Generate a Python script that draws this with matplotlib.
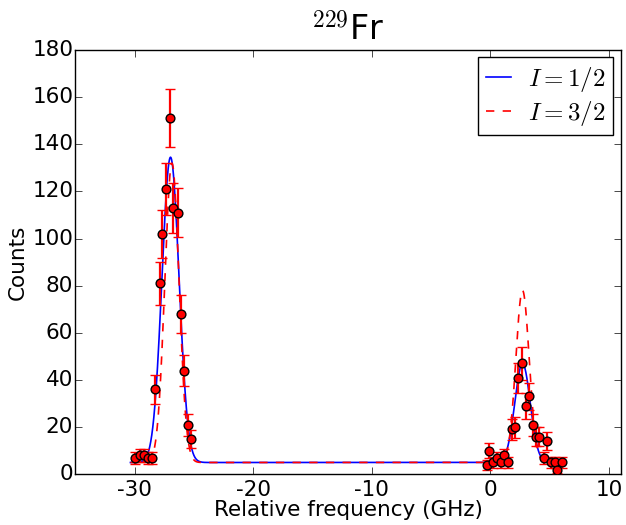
import numpy as np
import matplotlib
matplotlib.use("Agg")
import matplotlib.pyplot as plt

plt.style.use("classic")
plt.rcParams["axes.unicode_minus"] = False

### 데이터 ###
freq = [
    -29.98, -29.56, -29.22, -28.86, -28.52, -28.24, -27.87, -27.65,
    -27.31, -27.03, -26.75, -26.38, -26.10, -25.82, -25.49, -25.26,
    -0.30, -0.08, 0.25, 0.59, 0.88, 1.18, 1.47, 1.81, 2.08, 2.31,
    2.65, 2.99, 3.29, 3.63, 3.86, 4.14, 4.53, 4.81, 5.12, 5.46, 5.65, 6.08,
]
counts = [
    7, 8, 8, 7, 7, 36, 81, 102,
    121, 151, 113, 111, 68, 44, 21, 15,
    4, 10, 5, 7, 5, 8, 5, 19, 20, 41,
    47, 29, 33, 21, 16, 16, 7, 14, 5, 5, 2, 5,
]

# 피팅 결과 파라미터 (가우시안 성분: 중심, 높이, 폭)
background = 5.0
half_centers = [-26.97, 2.72]
half_amps = [129.5, 42.0]
half_widths = [0.72, 0.65]

three_half_centers = [-26.85, 2.72]
three_half_amps = [127.0, 73.0]
three_half_widths = [0.60, 0.56]


def model(x, centers, amps, widths, bg):
    y = np.full_like(x, bg)
    for c, a, w in zip(centers, amps, widths):
        y += a * np.exp(-0.5 * ((x - c) / w) ** 2)
    return y


### 그리기 ###
fig = plt.figure(figsize=(6.26, 5.25), dpi=100, facecolor="white")
ax = fig.add_axes([0.1203, 0.0966, 0.8712, 0.8082])

# 피팅 곡선은 데이터 범위 조금 바깥까지만
xs = np.linspace(min(freq) - 0.37, max(freq) + 0.32, 3000)
ax.plot(xs, model(xs, half_centers, half_amps, half_widths, background),
        "b-", lw=1.2, label=r"$I=1/2$")
ax.plot(xs, model(xs, three_half_centers, three_half_amps, three_half_widths, background),
        "r--", lw=1.2, label=r"$I=3/2$")

err = np.sqrt(counts)
ax.errorbar(freq, counts, yerr=err, fmt="o", color="red", ecolor="red",
            mfc="red", mec="black", mew=1.0, ms=6.3, elinewidth=1.6,
            capsize=3.5, capthick=1.6, zorder=5)

ax.set_xlim(-35, 11)
ax.set_ylim(0, 180)
ax.set_xticks([-30, -20, -10, 0, 10])
ax.set_yticks(range(0, 181, 20))
ax.tick_params(labelsize=15.5, direction="in", length=5)
ax.tick_params(axis="x", pad=4)
ax.tick_params(axis="y", pad=1.5)

ax.set_xlabel("Relative frequency (GHz)", fontsize=15.5, labelpad=0)
ax.set_ylabel("Counts", fontsize=15.5, labelpad=3)
ax.set_title(r"$^{229}$Fr", fontsize=24, pad=7)

leg = ax.legend(loc="upper right", fontsize=18, handlelength=1.0,
                handletextpad=0.7, borderpad=0.3, labelspacing=0.2,
                borderaxespad=0.3, numpoints=1, fancybox=False)
leg.get_frame().set_edgecolor("black")

fig.savefig("out.png", dpi=100, facecolor="white")
